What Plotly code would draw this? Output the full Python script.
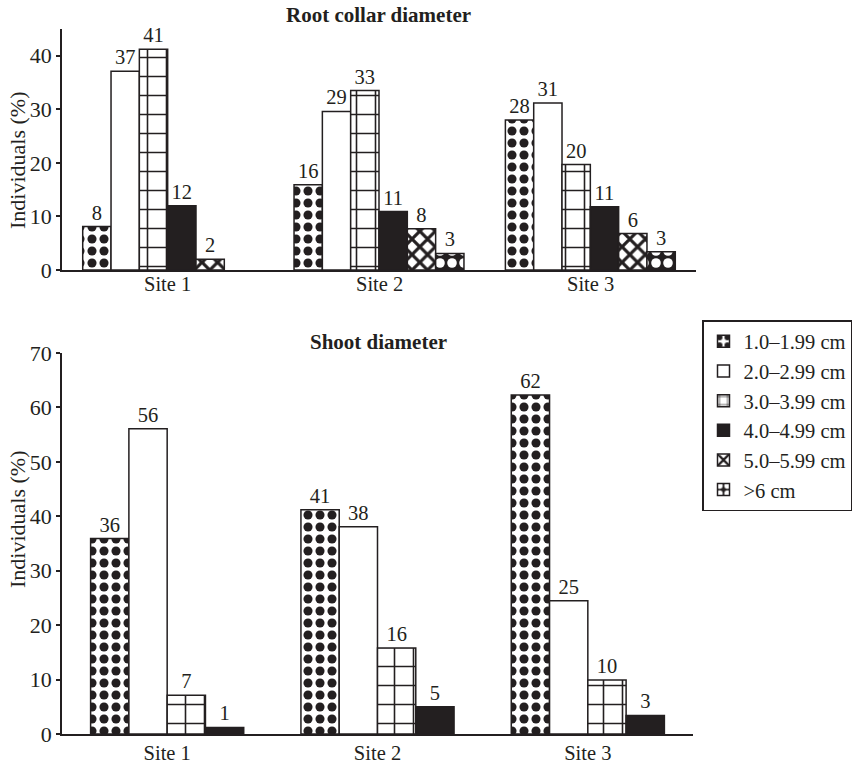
import plotly.graph_objects as go

sites = ["Site 1", "Site 2", "Site 3"]
classes = ["1.0–1.99 cm", "2.0–2.99 cm", "3.0–3.99 cm", "4.0–4.99 cm", "5.0–5.99 cm", ">6 cm"]

# Root collar diameter: bar heights as read, labels as printed
root_vals = [
    [8.1, 15.9, 28.0],
    [37.1, 29.6, 31.2],
    [41.2, 33.5, 19.7],
    [12.0, 10.9, 11.8],
    [2.0, 7.7, 6.8],
    [None, 3.1, 3.4],
]
root_labels = [
    ["8", "16", "28"],
    ["37", "29", "31"],
    ["41", "33", "20"],
    ["12", "11", "11"],
    ["2", "8", "6"],
    ["", "3", "3"],
]

# Shoot diameter
shoot_vals = [
    [35.9, 41.2, 62.3],
    [56.1, 38.1, 24.5],
    [7.1, 15.8, 9.9],
    [1.2, 5.0, 3.4],
]
shoot_labels = [
    ["36", "41", "62"],
    ["56", "38", "25"],
    ["7", "16", "10"],
    ["1", "5", "3"],
]

FONT = "Liberation Serif"
INK = "#231f20"

patterns = [
    dict(shape=".", fgcolor=INK, bgcolor="white", size=12, solidity=0.45, fgopacity=1),
    dict(shape="", bgcolor="white"),
    dict(shape="+", fgcolor=INK, bgcolor="white", size=19, solidity=0.16, fgopacity=1),
    dict(shape="", bgcolor=INK),
    dict(shape="x", fgcolor=INK, bgcolor="white", size=11, solidity=0.5, fgopacity=1),
    dict(shape=".", fgcolor="white", bgcolor=INK, size=12, solidity=0.5, fgopacity=1),
]
fills = ["white", "white", "white", INK, "white", INK]

fig = go.Figure()

def add_group(vals, labels, xa, ya, w, show):
    n = len(vals)
    for i, (v, lab) in enumerate(zip(vals, labels)):
        fig.add_trace(go.Bar(
            x=sites, y=v, text=lab, name=classes[i],
            xaxis=xa, yaxis=ya,
            width=w, offset=-n * w / 2 + i * w,
            marker=dict(color=fills[i], line=dict(color=INK, width=1.5),
                        pattern=patterns[i]),
            textposition="outside", cliponaxis=False,
            textfont=dict(family=FONT, size=20.5, color=INK),
            showlegend=show,
        ))

add_group(root_vals, root_labels, "x", "y", 0.134, True)
add_group(shoot_vals, shoot_labels, "x2", "y2", 0.182, False)

W, H = 859, 765


def px(x):
    return x / W


def py(y):
    return 1 - y / H


axis_common = dict(showline=True, linecolor=INK, linewidth=1.5, showgrid=False, zeroline=False,
                   automargin=False)
xtick_font = dict(family=FONT, size=20.5, color=INK)
ytick_font = dict(family=FONT, size=22, color=INK)

# site labels of the upper panel sit a little closer to the axis than Plotly's default
top_site_labels = [
    dict(text=s, x=s, xref="x", y=py(284), yref="paper", xanchor="center", yanchor="middle",
         showarrow=False, font=xtick_font)
    for s in sites
]

fig.update_layout(
    width=W, height=H,
    margin=dict(l=0, r=0, t=0, b=0, autoexpand=False),
    paper_bgcolor="white", plot_bgcolor="white",
    barmode="overlay",
    font=dict(family=FONT, size=21, color=INK),
    xaxis=dict(domain=[px(62), px(696)], anchor="y", range=[-0.5, 2.5], ticks="",
               showticklabels=False, **axis_common),
    yaxis=dict(domain=[py(270), py(29)], anchor="x", range=[0, 45],
               tickvals=[0, 10, 20, 30, 40], ticks="outside", ticklen=4, tickwidth=1.5, tickcolor=INK,
               tickfont=ytick_font, **axis_common),
    xaxis2=dict(domain=[px(62), px(693)], anchor="y2", range=[-0.5, 2.5], ticks="",
                tickfont=xtick_font, **axis_common),
    yaxis2=dict(domain=[py(734), py(353)], anchor="x2", range=[0, 70],
                tickvals=[0, 10, 20, 30, 40, 50, 60, 70], ticks="outside", ticklen=4, tickwidth=1.5,
                tickcolor=INK, tickfont=ytick_font, **axis_common),
    legend=dict(x=px(702), y=py(320), xanchor="left", yanchor="top",
                bordercolor=INK, borderwidth=1.5, bgcolor="white",
                font=dict(family=FONT, size=20.5, color=INK), tracegroupgap=0),
    annotations=top_site_labels + [
        dict(text="<b>Root collar diameter</b>", x=px(378), y=py(15), xref="paper", yref="paper",
             xanchor="center", yanchor="middle",
             showarrow=False, font=dict(family=FONT, size=21, color=INK)),
        dict(text="<b>Shoot diameter</b>", x=px(378), y=py(342), xref="paper", yref="paper",
             xanchor="center", yanchor="middle",
             showarrow=False, font=dict(family=FONT, size=21, color=INK)),
        dict(text="Individuals (%)", x=px(17), y=py(161), xref="paper", yref="paper",
             xanchor="center", yanchor="middle",
             textangle=-90, showarrow=False, font=dict(family=FONT, size=22, color=INK)),
        dict(text="Individuals (%)", x=px(17), y=py(520), xref="paper", yref="paper",
             xanchor="center", yanchor="middle",
             textangle=-90, showarrow=False, font=dict(family=FONT, size=22, color=INK)),
    ],
)

# remove the browser's default 8 px page margin so the figure fills the window exactly
fig.write_html("out.html", config={"displayModeBar": False},
               post_script="document.body.style.margin='0px';")
